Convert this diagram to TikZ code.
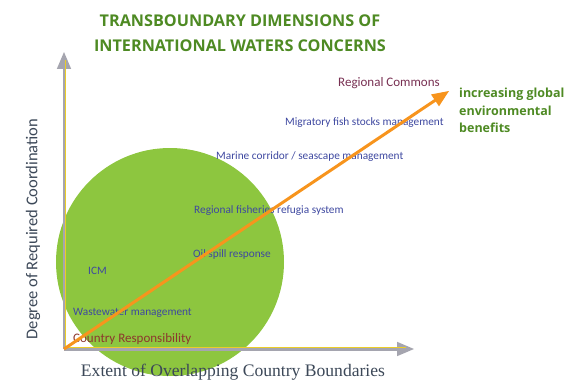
\documentclass[tikz,border=0pt]{standalone}
\usepackage{fontspec}
\setmainfont{Carlito}
\newfontfamily\headfont{Open Sans}
\newfontfamily\serifaxis{Liberation Serif}
\usetikzlibrary{arrows}

\definecolor{circlegreen}{RGB}{141,198,63}
\definecolor{headgreen}{RGB}{78,138,35}
\definecolor{itemblue}{RGB}{62,72,160}
\definecolor{commonsred}{RGB}{120,48,82}
\definecolor{countryred}{RGB}{140,55,45}
\definecolor{axisgray}{RGB}{165,165,175}
\definecolor{axisyellow}{RGB}{235,205,40}
\definecolor{trendorange}{RGB}{247,148,29}
\definecolor{axistext}{RGB}{60,72,88}

\begin{document}
\begin{tikzpicture}[x=1pt,y=-1pt]
\tikzstyle{item} = [anchor=west,inner sep=0pt,text=itemblue,font=\fontsize{11.3}{13}\selectfont]
\tikzstyle{head} = [text=headgreen,font=\headfont\bfseries\fontsize{16.2}{25.5}\selectfont,align=center]
\tikzstyle{axis} = [draw=axisgray,line width=3pt,-triangle 45]
\tikzstyle{axisline} = [draw=axisyellow,line width=0.8pt]
\tikzstyle{trend} = [draw=trendorange,line width=3pt,-triangle 45]

\useasboundingbox (0,0) rectangle (584,383);

% the circle of national concerns
\fill[circlegreen] (170,262) circle (114);

\coordinate (origin) at (64,349);
\coordinate (ytip) at (64,52);
\coordinate (xtip) at (414,349);
\coordinate (trendtip) at (449,91);

\draw[axis] (origin) -- (ytip);
\draw[axis] (origin) -- (xtip);
\draw[axisline] ([xshift=1.2pt]origin) -- ([xshift=1.2pt,yshift=-8pt]ytip);
\draw[axisline] ([yshift=1.2pt]origin) -- ([xshift=-8pt,yshift=1.2pt]xtip);

\node[head] (title) at (240,33) {TRANSBOUNDARY DIMENSIONS OF\\INTERNATIONAL WATERS CONCERNS};

\node[item,text=commonsred,font=\fontsize{13}{15}\selectfont] (commons) at (338,83) {Regional Commons};
\node[item] (fish) at (285,123) {Migratory fish stocks management};
\node[item] (marine) at (216,157) {Marine corridor / seascape management};
\node[item] (refugia) at (194,211) {Regional fisheries refugia system};
\node[item] (oil) at (193,254) {Oil spill response};
\node[item] (icm) at (88,271) {ICM};
\node[item] (waste) at (73,313) {Wastewater management};
\node[item,text=countryred,font=\fontsize{13}{15}\selectfont] (country) at (73,339) {Country Responsibility};

\node[anchor=north west,inner sep=0pt,text=headgreen,align=left,
  font=\headfont\bfseries\fontsize{12.5}{17.5}\selectfont] (benefits) at (459,88)
  {increasing global\\environmental\\benefits};

\node[rotate=90,text=axistext,font=\fontsize{16.5}{18}\selectfont] (ylabel) at (33,229) {Degree of Required Coordination};
\node[text=axistext,font=\serifaxis\fontsize{17.6}{19}\selectfont] (xlabel) at (233,372) {Extent of Overlapping Country Boundaries};

\draw[trend] (origin) -- (trendtip);
\end{tikzpicture}
\end{document}
